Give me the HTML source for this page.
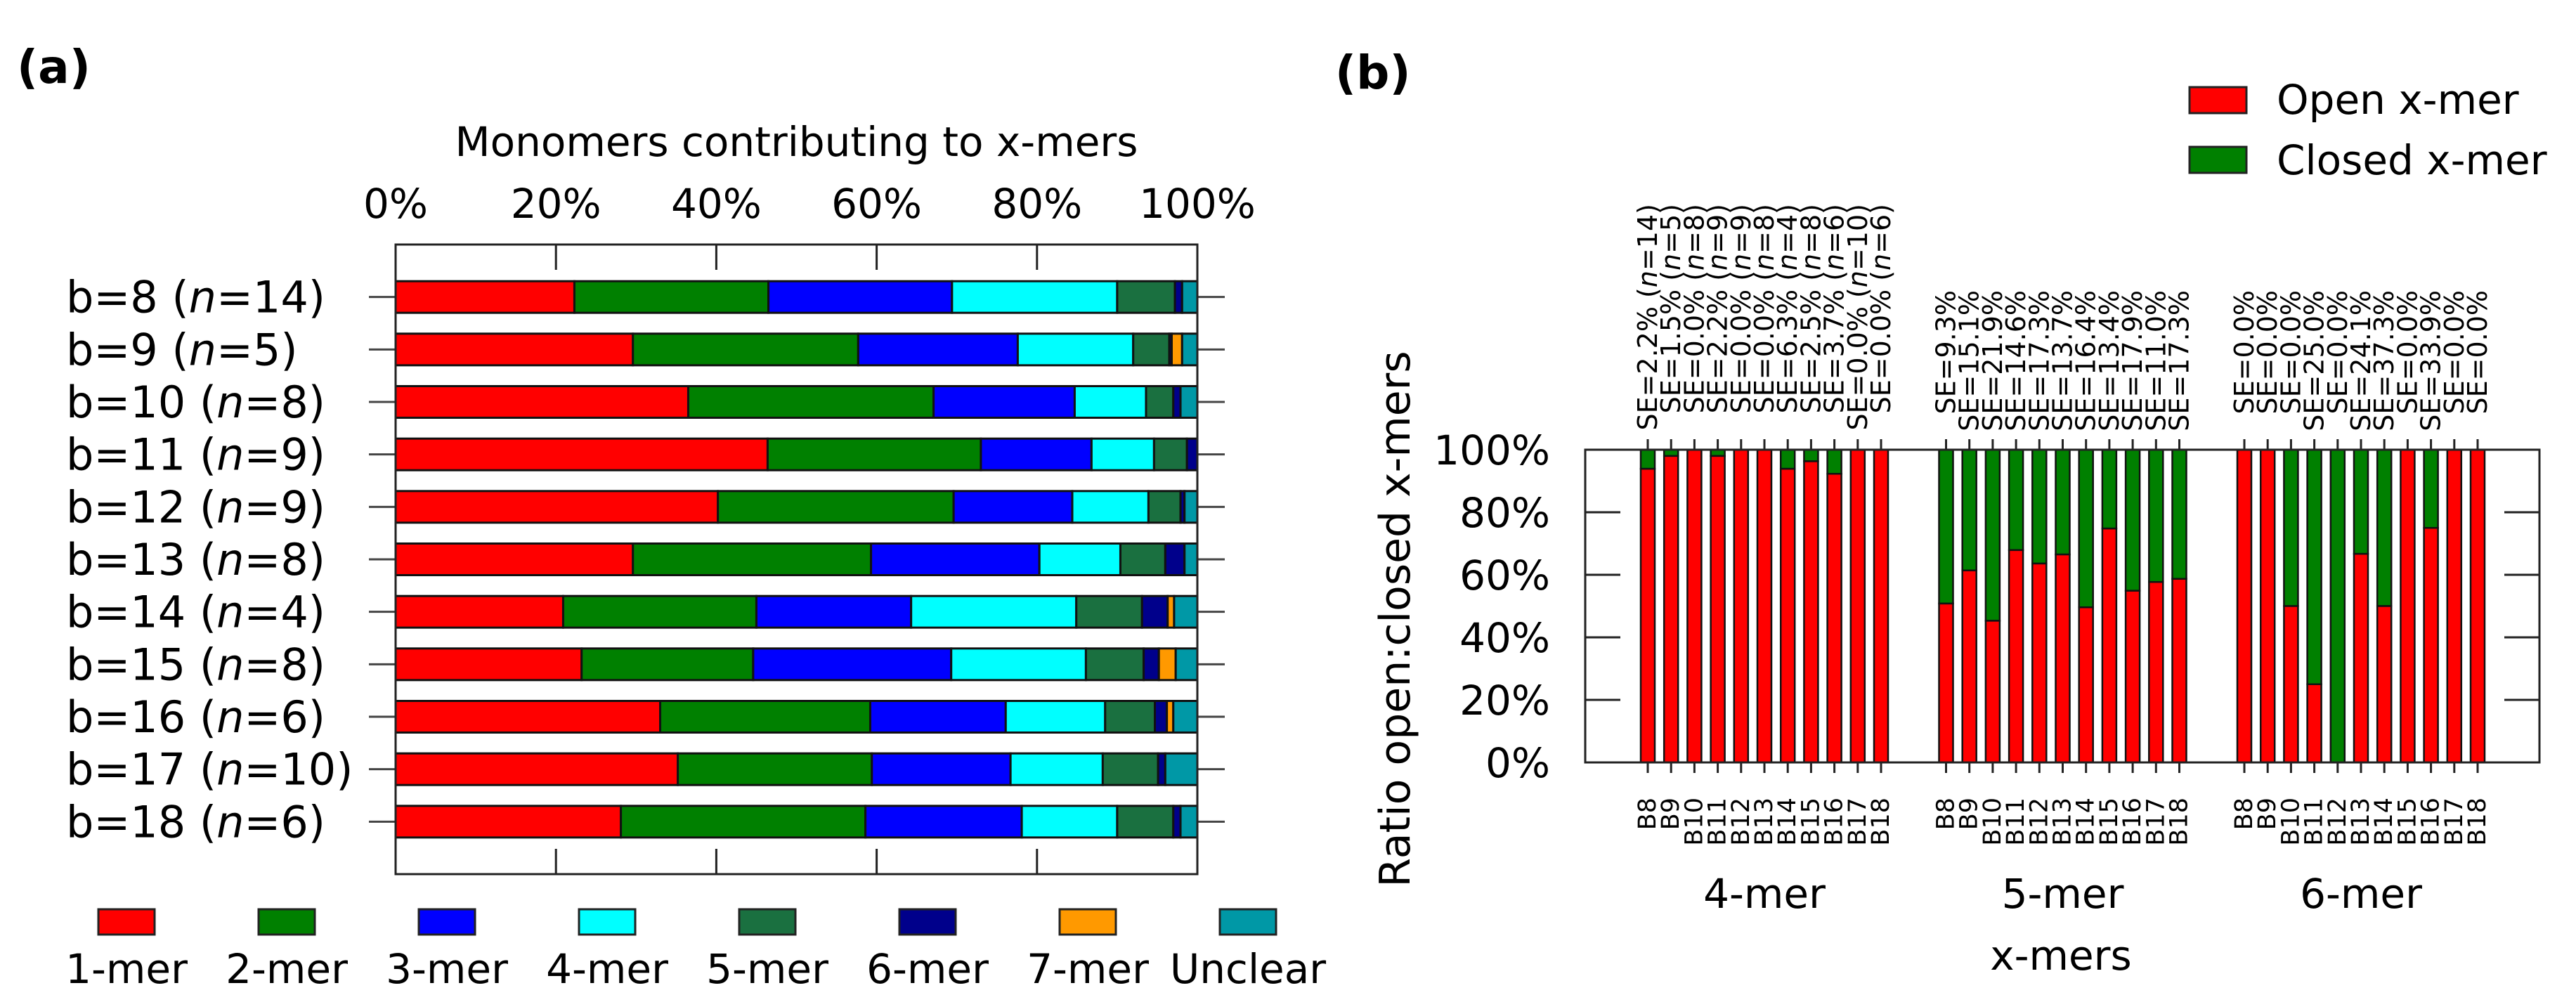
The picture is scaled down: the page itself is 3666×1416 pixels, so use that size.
<!DOCTYPE html>
<html><head><meta charset="utf-8"><style>
html,body{margin:0;padding:0;background:#fff;}
svg{display:block;font-family:"DejaVu Sans","Liberation Sans",sans-serif;}
</style></head><body>
<svg id="fig" width="3666" height="1416" viewBox="0 0 3666 1416" xmlns="http://www.w3.org/2000/svg">
<text x="24" y="118" font-size="66" font-weight="bold">(a)</text>
<text x="1900" y="126" font-size="66" font-weight="bold">(b)</text>
<g id="pa"></g>
<g id="pb"></g>
</svg>
<script>
// ---------- Panel (a) data ----------
const rowLabels = ["b=8","b=9","b=10","b=11","b=12","b=13","b=14","b=15","b=16","b=17","b=18"];
const rowN = [14,5,8,9,9,8,4,8,6,10,6];
const seriesNames = ["1-mer","2-mer","3-mer","4-mer","5-mer","6-mer","7-mer","Unclear"];
const seriesColors = ["#ff0000","#008000","#0000ff","#00ffff","#1a7040","#00008b","#ff9900","#0098a6"];
const s1mer = [22.3,29.6,36.5,46.4,40.2,29.6,20.9,23.2,33.0,35.2,28.1];
const s2mer = [24.2,28.1,30.6,26.6,29.4,29.7,24.1,21.4,26.2,24.2,30.5];
const s3mer = [22.9,19.9,17.6,13.8,14.8,21.0,19.3,24.7,16.9,17.3,19.5];
const s4mer = [20.6,14.4,8.9,7.8,9.5,10.1,20.6,16.8,12.4,11.5,11.9];
const s5mer = [7.2,4.5,3.4,4.1,4.0,5.6,8.2,7.2,6.2,6.9,7.0];
const s6mer = [0.9,0.3,0.9,1.3,0.5,2.4,3.2,1.9,1.5,0.9,0.9];
const s7mer = [0.0,1.3,0.0,0.0,0.0,0.0,0.8,2.1,0.8,0.0,0.0];
const sUnclear = [1.9,1.9,2.1,0.0,1.6,1.6,2.9,2.7,3.0,4.0,2.1];
const aTicks = [0,20,40,60,80,100];

// ---------- Panel (b) data ----------
const groups = ["4-mer","5-mer","6-mer"];
const bLabels = ["B8","B9","B10","B11","B12","B13","B14","B15","B16","B17","B18"];
const open4 = [93.9,98.0,100,98.0,100,100,93.9,96.3,92.3,100,100];
const open5 = [50.8,61.4,45.3,67.9,63.6,66.5,49.6,74.8,54.9,57.7,58.7];
const open6 = [100,100,50,25,0,66.7,50,100,75,100,100];
const se4 = ["2.2","1.5","0.0","2.2","0.0","0.0","6.3","2.5","3.7","0.0","0.0"];
const se5 = ["9.3","15.1","21.9","14.6","17.3","13.7","16.4","13.4","17.9","11.0","17.3"];
const se6 = ["0.0","0.0","0.0","25.0","0.0","24.1","37.3","0.0","33.9","0.0","0.0"];
const bTicks = [0,20,40,60,80,100];

const NS="http://www.w3.org/2000/svg";
function mk(parent,tag,attrs,txt){const e=document.createElementNS(NS,tag);for(const k in attrs)e.setAttribute(k,attrs[k]);if(txt!==undefined)e.textContent=txt;parent.appendChild(e);return e;}

// ---- Panel (a) ----
(function(){
const g=document.getElementById('pa');
const L=563,R=1704,T=348,B=1244;
const xA=v=>L+(R-L)*v/100;
const slot=(B-T)/12;
const yA=i=>T+slot*(i+1);
const barH=45;
let t=mk(g,'text',{x:(L+R)/2,y:222,'font-size':58,'text-anchor':'middle'},'Monomers contributing to x-mers');


aTicks.forEach(v=>{
  let e=mk(g,'text',{x:xA(v),y:310,'font-size':58,'text-anchor':'middle'},v+'%');
  
  
  if(v>0&&v<100){
    mk(g,'line',{x1:xA(v),x2:xA(v),y1:T,y2:T+36,stroke:'#222','stroke-width':3});
    mk(g,'line',{x1:xA(v),x2:xA(v),y1:B,y2:B-36,stroke:'#222','stroke-width':3});
  }
});
const series=[s1mer,s2mer,s3mer,s4mer,s5mer,s6mer,s7mer,sUnclear];
rowLabels.forEach((lab,i)=>{
  const y=yA(i);
  mk(g,'line',{x1:525,x2:L,y1:y,y2:y,stroke:'#444','stroke-width':3});
  mk(g,'line',{x1:R,x2:1743,y1:y,y2:y,stroke:'#444','stroke-width':3});
  const tx=mk(g,'text',{x:94,y:y+22,'font-size':62});
  
  
  mk(tx,'tspan',{},lab+' (');
  mk(tx,'tspan',{'font-style':'italic'},'n');
  mk(tx,'tspan',{},'='+rowN[i]+')');
  let cum=0;
  series.forEach((s,k)=>{
    const v=s[i];
    if(v>0){
      const r=mk(g,'rect',{x:xA(cum),y:y-barH/2,width:xA(cum+v)-xA(cum),height:barH,fill:seriesColors[k],stroke:'#111','stroke-width':3});
      
      
    }
    cum+=v;
  });
});
const fr=mk(g,'rect',{x:L,y:T,width:R-L,height:B-T,fill:'none',stroke:'#222','stroke-width':3});


seriesNames.forEach((n,k)=>{
  const cx=180+k*228;
  const r=mk(g,'rect',{x:cx-40,y:1294,width:80,height:36,fill:seriesColors[k],stroke:'#222','stroke-width':3});
  
  
  const e=mk(g,'text',{x:cx,y:1399,'font-size':58,'text-anchor':'middle'},n);
  
  
});
})();

// ---- Panel (b) ----
(function(){
const g=document.getElementById('pb');
const L=2256,R=3614,T=640,B=1085;
const yB=v=>B-(B-T)*v/100;
const pitch=33.2, groupStep=424.5, first=2345, bw=20;
const xB=(gi,bi)=>first+gi*groupStep+bi*pitch;
bTicks.forEach(v=>{
  const e=mk(g,'text',{x:2206,y:yB(v)+21,'font-size':58,'text-anchor':'end'},v+'%');
  
  
  if(v>0&&v<100){
    mk(g,'line',{x1:L,x2:L+50,y1:yB(v),y2:yB(v),stroke:'#222','stroke-width':3});
    mk(g,'line',{x1:R,x2:R-50,y1:yB(v),y2:yB(v),stroke:'#222','stroke-width':3});
  }
});
const t=mk(g,'text',{x:0,y:0,'font-size':60,'text-anchor':'middle',transform:'translate(2006,881) rotate(-90)'},'Ratio open:closed x-mers');


const opens=[open4,open5,open6];
const ses=[se4,se5,se6];
const seTop=[290,413,413];
groups.forEach((gn,gi)=>{
  bLabels.forEach((bl,bi)=>{
    const x=xB(gi,bi), v=opens[gi][bi];
    const c=mk(g,'rect',{x:x-bw/2,y:T,width:bw,height:yB(v)-T,fill:'#008000',stroke:'#111','stroke-width':2.5});
    
    
    if(v>0){
      const o=mk(g,'rect',{x:x-bw/2,y:yB(v),width:bw,height:B-yB(v),fill:'#ff0000',stroke:'#111','stroke-width':2.5});
      
      
    }
    mk(g,'line',{x1:x,x2:x,y1:B,y2:B+15,stroke:'#222','stroke-width':3});
    mk(g,'line',{x1:x,x2:x,y1:T,y2:T-15,stroke:'#222','stroke-width':3});
    const bt=mk(g,'text',{x:0,y:0,'font-size':35,'text-anchor':'end','dominant-baseline':'central',transform:'translate('+x+',1135) rotate(-90)'},bl);
    
    
    const st=mk(g,'text',{x:0,y:0,'font-size':38,'text-anchor':'end','dominant-baseline':'central',transform:'translate('+x+','+seTop[gi]+') rotate(-90)'});
    
    
    mk(st,'tspan',{},'SE='+ses[gi][bi]+'%'+(gi===0?' (':''));
    if(gi===0){
      mk(st,'tspan',{'font-style':'italic'},'n');
      mk(st,'tspan',{},'='+rowN[bi]+')');
    }
  });
  const gl=mk(g,'text',{x:xB(gi,5),y:1292,'font-size':58,'text-anchor':'middle'},gn);
  
  
});
const fr=mk(g,'rect',{x:L,y:T,width:R-L,height:B-T,fill:'none',stroke:'#222','stroke-width':3});


const xt=mk(g,'text',{x:2933,y:1380,'font-size':58,'text-anchor':'middle'},'x-mers');


const lc=[['Open x-mer','#ff0000',124,141],['Closed x-mer','#008000',209,227]];
lc.forEach(l=>{
  const r=mk(g,'rect',{x:3116,y:l[2],width:81,height:37,fill:l[1],stroke:'#222','stroke-width':3});
  
  
  const e=mk(g,'text',{x:3240,y:l[3]+21,'font-size':58},l[0]);
  
  
});
})();
</script>
</body></html>
